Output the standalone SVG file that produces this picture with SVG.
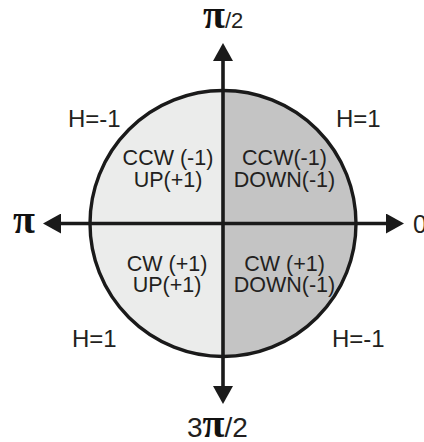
<svg xmlns="http://www.w3.org/2000/svg" width="424" height="442" viewBox="0 0 424 442">
  <style>
    .lbl { font-family: "Liberation Sans", Arial, sans-serif; fill: #231f20; }
    .q { font-size: 21.5px; text-anchor: middle; }
    .h { font-size: 24px; }
    .pi { font-family: "Liberation Serif", "Times New Roman", serif; font-weight: bold; fill: #111; }
    .axis { stroke: #1a1a1a; stroke-width: 3.6; fill: none; }
    .rim { stroke: #1a1a1a; stroke-width: 3.4; fill: none; }
  </style>
  <defs>
    <marker id="ah" viewBox="0 0 18 20" refX="2" refY="10" markerWidth="18" markerHeight="20" markerUnits="userSpaceOnUse" orient="auto-start-reverse">
      <path d="M0,0 L18,10 L0,20 Z" fill="#1a1a1a"/>
    </marker>
  </defs>

  <g id="left-half">
    <path d="M223,90.5 A133,133 0 0 0 223,356.5 Z" fill="#ebeceb"/>
  </g>
  <g id="right-half">
    <path d="M223,90.5 A133,133 0 0 1 223,356.5 Z" fill="#c4c4c4"/>
  </g>
  <g id="rim">
    <circle cx="223" cy="223.5" r="133" class="rim"/>
  </g>

  <g id="connectors">
    <line x1="223" y1="59" x2="223" y2="388" class="axis" marker-start="url(#ah)" marker-end="url(#ah)"/>
    <line x1="59" y1="223.5" x2="388" y2="223.5" class="axis" marker-start="url(#ah)" marker-end="url(#ah)"/>
  </g>

  <g id="q-top-left">
    <text class="lbl q" x="168" y="165">CCW (-1)</text>
    <text class="lbl q" x="168" y="187">UP(+1)</text>
  </g>
  <g id="q-top-right">
    <text class="lbl q" x="284.5" y="165">CCW(-1)</text>
    <text class="lbl q" x="284.5" y="187">DOWN(-1)</text>
  </g>
  <g id="q-bottom-left">
    <text class="lbl q" x="167" y="271">CW (+1)</text>
    <text class="lbl q" x="167" y="292">UP(+1)</text>
  </g>
  <g id="q-bottom-right">
    <text class="lbl q" x="284.5" y="271">CW (+1)</text>
    <text class="lbl q" x="284.5" y="292">DOWN(-1)</text>
  </g>

  <g id="h-labels">
    <text class="lbl h" x="68" y="127">H=-1</text>
    <text class="lbl h" x="336" y="127">H=1</text>
    <text class="lbl h" x="72" y="347">H=1</text>
    <text class="lbl h" x="332" y="347">H=-1</text>
  </g>

  <g id="angle-top">
    <text x="203" y="28"><tspan class="pi" font-size="40">π</tspan><tspan class="lbl" font-size="22">/2</tspan></text>
  </g>
  <g id="angle-left">
    <text class="pi" x="13" y="233" font-size="40">π</text>
  </g>
  <g id="angle-right">
    <text class="lbl" x="413" y="233" font-size="25">0</text>
  </g>
  <g id="angle-bottom">
    <text x="187" y="437"><tspan class="lbl" font-size="28">3</tspan><tspan class="pi" font-size="40">π</tspan><tspan class="lbl" font-size="28">/2</tspan></text>
  </g>
</svg>
